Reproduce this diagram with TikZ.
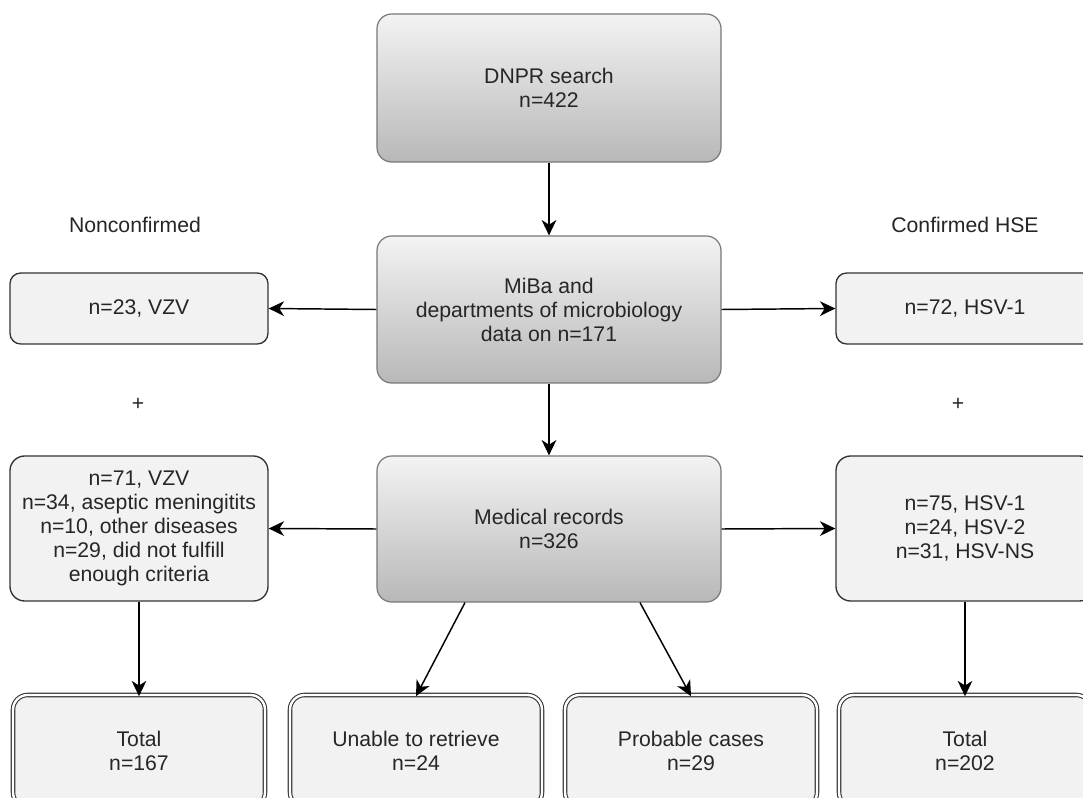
\documentclass[tikz,border=0pt]{standalone}
\usepackage{fontspec}
\setmainfont{Liberation Sans}
\usetikzlibrary{arrows.meta,calc}
\definecolor{txt}{HTML}{262626}
\definecolor{lightfill}{HTML}{F2F2F2}
\definecolor{darkline}{HTML}{333333}
\definecolor{gradtop}{HTML}{F3F3F3}
\definecolor{gradbot}{HTML}{B8B8B8}
\definecolor{gradline}{HTML}{777777}
\tikzset{
  gradbox/.style={rectangle, rounded corners=11pt, draw=gradline, line width=0.9pt,
    top color=gradtop, bottom color=gradbot, minimum width=258pt, inner sep=0pt,
    align=center, text=txt},
  lightbox/.style={rectangle, rounded corners=11pt, draw=darkline, line width=1pt,
    fill=lightfill, minimum width=193.5pt, inner sep=0pt, align=center, text=txt},
  totalbox/.style={rectangle, rounded corners=11pt, draw=darkline, line width=0.8pt,
    double=white, double distance=1.8pt, fill=lightfill, minimum width=189pt,
    minimum height=84pt, inner sep=0pt, align=center, text=txt},
  conn/.style={draw=black, line width=1.1pt, -{Stealth[length=11.5pt,width=11pt,inset=3.5pt]}},
  lbl/.style={text=txt, inner sep=0pt}
}
\begin{document}
\begin{tikzpicture}[x=0.75pt,y=-0.75pt, font=\fontsize{15.9}{18}\selectfont]
\useasboundingbox (0,0) rectangle (1083,798);
\clip (0,0) rectangle (1083,798);
\fill[white] (0,0) rectangle (1083,798);

\node[gradbox, minimum height=111pt] (dnpr) at (549,88) {DNPR search\\n=422};
\node[gradbox, minimum height=110.25pt] (miba) at (549,309.5) {MiBa and\\departments of microbiology\\data on n=171};
\node[gradbox, minimum height=109.5pt] (med) at (549,529) {Medical records\\n=326};

\node[lightbox, rounded corners=8pt, minimum height=53.25pt] (vzv) at (139,308.5) {n=23, VZV};
\node[lightbox, rounded corners=8pt, minimum height=53.25pt] (hsv) at (965,308.5) {n=72, HSV-1};

\node[lightbox, minimum height=108.75pt] (left2) at (139,528.5) {n=71, VZV\\n=34, aseptic meningitits\\n=10, other diseases\\n=29, did not fulfill\\enough criteria};
\node[lightbox, minimum height=108.75pt] (right2) at (965,528.5) {n=75, HSV-1\\n=24, HSV-2\\n=31, HSV-NS};

\node[totalbox] (tot1) at (139,751) {Total\\n=167};
\node[totalbox] (unable) at (416,751) {Unable to retrieve\\n=24};
\node[totalbox] (prob) at (691,751) {Probable cases\\n=29};
\node[totalbox] (tot2) at (965,751) {Total\\n=202};

\node[lbl] (noncon) at (135,225) {Nonconfirmed};
\node[lbl] (conf) at (965,225) {Confirmed HSE};
\node[lbl] (plus1) at (138,404) {+};
\node[lbl] (plus2) at (958,404) {+};

\draw[conn] (dnpr.south) -- (miba.north);
\draw[conn] (miba.south) -- (med.north);
\draw[conn] (miba.west) -- (vzv.east);
\draw[conn] (miba.east) -- (hsv.west);
\draw[conn] (med.west) -- (left2.east);
\draw[conn] (med.east) -- (right2.west);
\draw[conn] (left2.south) -- ([yshift=-1.3pt]tot1.north);
\draw[conn] (right2.south) -- ([yshift=-1.3pt]tot2.north);
\draw[conn] ($(med.south)+(-84,0)$) -- ([yshift=-1.3pt]unable.north);
\draw[conn] ($(med.south)+(91,0)$) -- ([yshift=-1.3pt]prob.north);
\end{tikzpicture}
\end{document}
